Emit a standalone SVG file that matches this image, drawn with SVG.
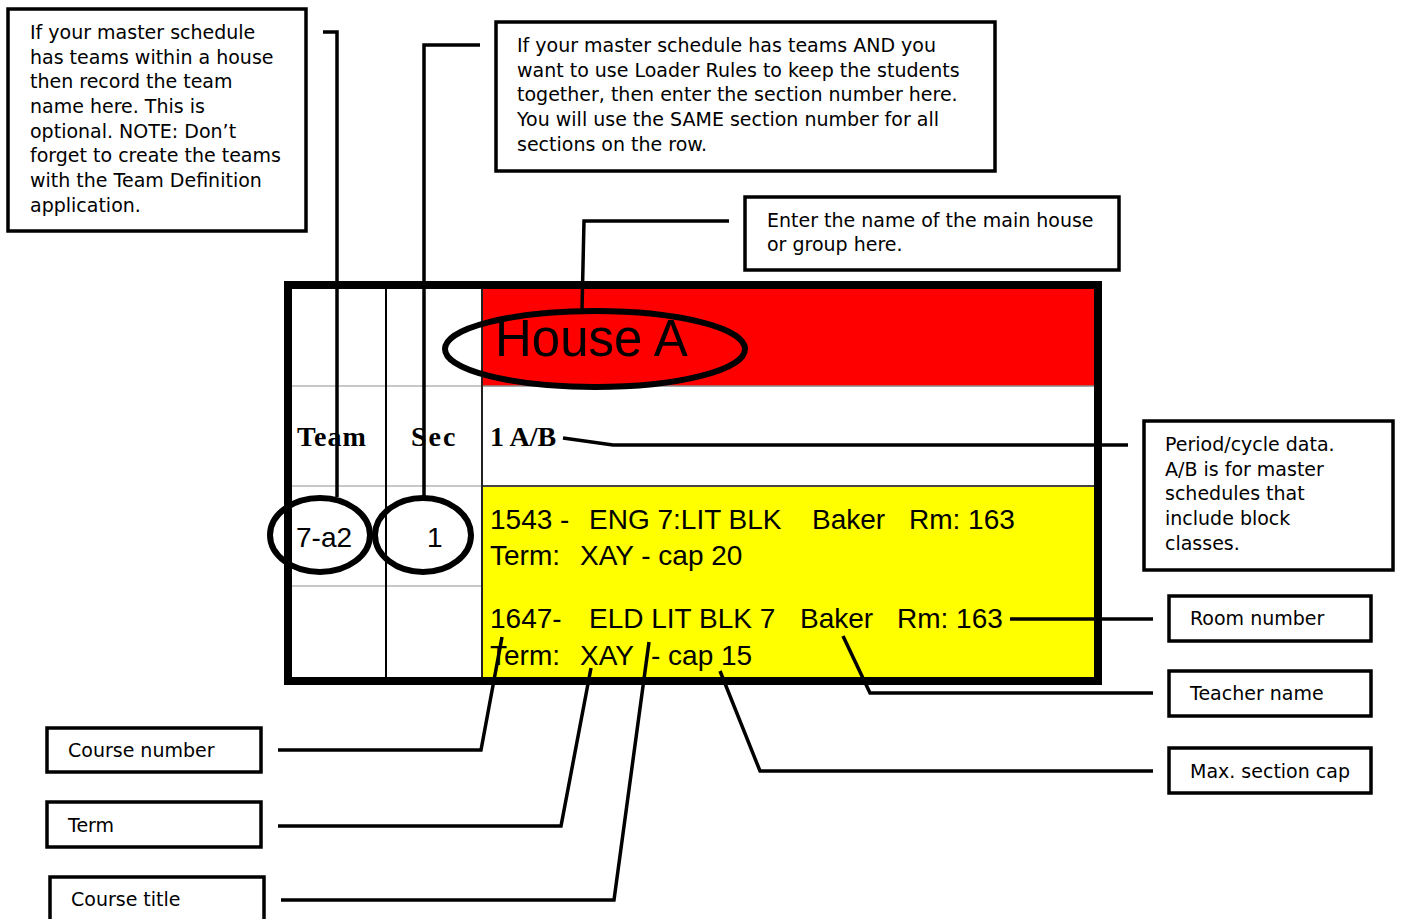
<svg xmlns="http://www.w3.org/2000/svg" width="1401" height="919" viewBox="0 0 1401 919">
<style>
.box{fill:#fff;stroke:#000;stroke-width:3.5}
.note{font-family:"DejaVu Sans",Verdana,sans-serif;font-size:19px;fill:#000}
.conn{fill:none;stroke:#000;stroke-width:3.5;stroke-linejoin:miter}
.ring{fill:none;stroke:#000;stroke-width:6}
.cell{font-family:"Liberation Sans",Arial,sans-serif;font-size:28px;fill:#000}
.hdr{font-family:"Liberation Serif","Times New Roman",serif;font-size:28px;font-weight:bold;fill:#000}
.grid{stroke:#c8c8c8;stroke-width:2}
</style>
<rect width="1401" height="919" fill="#fff"/>

<g id="table">
  <rect x="288" y="285" width="810" height="396" fill="#fff"/>
  <rect x="483" y="288" width="612" height="98" fill="#ff0000"/>
  <rect x="483" y="486" width="612" height="192" fill="#ffff00"/>
  <line class="grid" x1="292" y1="386" x2="482" y2="386"/>
  <line class="grid" x1="292" y1="486" x2="482" y2="486"/>
  <line class="grid" x1="292" y1="586" x2="482" y2="586"/>
  <line x1="483" y1="386" x2="1095" y2="386" stroke="#888" stroke-width="1.5"/>
  <line x1="483" y1="486" x2="1095" y2="486" stroke="#444" stroke-width="2"/>
  <line x1="386" y1="288" x2="386" y2="680" stroke="#000" stroke-width="2"/>
  <line x1="482" y1="288" x2="482" y2="680" stroke="#222" stroke-width="2"/>
  <rect x="288" y="285" width="810" height="396" fill="none" stroke="#000" stroke-width="8"/>
  <text x="495" y="356" font-family="'Liberation Sans',Arial,sans-serif" font-size="51" fill="#000">House A</text>
  <text class="hdr" x="297" y="446" letter-spacing="1">Team</text>
  <text class="hdr" x="411" y="446" letter-spacing="2">Sec</text>
  <text class="hdr" x="490" y="446">1 A/B</text>
  <text class="cell" x="296" y="547" font-size="29">7-a2</text>
  <text class="cell" x="427" y="547" font-size="29">1</text>
  <text class="cell" y="529"><tspan x="490">1543 -</tspan><tspan x="589">ENG 7:LIT BLK</tspan><tspan x="812">Baker</tspan><tspan x="909">Rm: 163</tspan></text>
  <text class="cell" y="565"><tspan x="490">Term:</tspan><tspan x="580">XAY - cap 20</tspan></text>
  <text class="cell" y="628"><tspan x="490">1647-</tspan><tspan x="589">ELD LIT BLK 7</tspan><tspan x="800">Baker</tspan><tspan x="897">Rm: 163</tspan></text>
  <text class="cell" y="665"><tspan x="490">Term:</tspan><tspan x="580">XAY</tspan><tspan x="651">- cap 15</tspan></text>
</g>

<g id="note-team">
  <rect class="box" x="8" y="9" width="298" height="222"/>
  <text class="note" x="30"><tspan x="30" y="39">If your master schedule</tspan><tspan x="30" y="64">has teams within a house</tspan><tspan x="30" y="88">then record the team</tspan><tspan x="30" y="113">name here. This is</tspan><tspan x="30" y="138">optional. NOTE: Don’t</tspan><tspan x="30" y="162">forget to create the teams</tspan><tspan x="30" y="187">with the Team Definition</tspan><tspan x="30" y="212">application.</tspan></text>
</g>

<g id="note-section">
  <rect class="box" x="496" y="22" width="499" height="149"/>
  <text class="note"><tspan x="517" y="52">If your master schedule has teams AND you</tspan><tspan x="517" y="77">want to use Loader Rules to keep the students</tspan><tspan x="517" y="101">together, then enter the section number here.</tspan><tspan x="517" y="126">You will use the SAME section number for all</tspan><tspan x="517" y="151">sections on the row.</tspan></text>
</g>

<g id="note-house">
  <rect class="box" x="745" y="197" width="374" height="73"/>
  <text class="note"><tspan x="767" y="227">Enter the name of the main house</tspan><tspan x="767" y="251">or group here.</tspan></text>
</g>

<g id="note-period">
  <rect class="box" x="1144" y="421" width="249" height="149"/>
  <text class="note"><tspan x="1165" y="451">Period/cycle data.</tspan><tspan x="1165" y="476">A/B is for master</tspan><tspan x="1165" y="500">schedules that</tspan><tspan x="1165" y="525">include block</tspan><tspan x="1165" y="550">classes.</tspan></text>
</g>

<g id="note-room">
  <rect class="box" x="1169" y="596" width="202" height="45"/>
  <text class="note" x="1190" y="625">Room number</text>
</g>

<g id="note-teacher">
  <rect class="box" x="1169" y="671" width="202" height="45"/>
  <text class="note" x="1190" y="700">Teacher name</text>
</g>

<g id="note-cap">
  <rect class="box" x="1169" y="748" width="202" height="45"/>
  <text class="note" x="1190" y="778">Max. section cap</text>
</g>

<g id="note-course-number">
  <rect class="box" x="47" y="728" width="214" height="44"/>
  <text class="note" x="68" y="757">Course number</text>
</g>

<g id="note-term">
  <rect class="box" x="47" y="802" width="214" height="45"/>
  <text class="note" x="68" y="832">Term</text>
</g>

<g id="note-course-title">
  <rect class="box" x="50" y="877" width="214" height="50"/>
  <text class="note" x="71" y="906">Course title</text>
</g>

<g id="connectors">
  <ellipse class="ring" cx="595" cy="349" rx="150" ry="38"/>
  <ellipse class="ring" cx="320" cy="535" rx="50" ry="37"/>
  <ellipse class="ring" cx="423" cy="535" rx="48" ry="37"/>
  <polyline class="conn" points="323,32 337,32 337,497"/>
  <polyline class="conn" points="480,45 424,45 424,497"/>
  <polyline class="conn" points="729,221 584,221 582,310"/>
  <polyline class="conn" points="563,438 613,445 1128,445"/>
  <polyline class="conn" points="1153,619 1010,619"/>
  <polyline class="conn" points="1153,693 870,693 843,636"/>
  <polyline class="conn" points="1153,771 760,771 720,671"/>
  <polyline class="conn" points="278,750 481,750 502,637"/>
  <polyline class="conn" points="278,826 561,826 591,668"/>
  <polyline class="conn" points="281,900 614,900 649,642"/>
</g>
</svg>
